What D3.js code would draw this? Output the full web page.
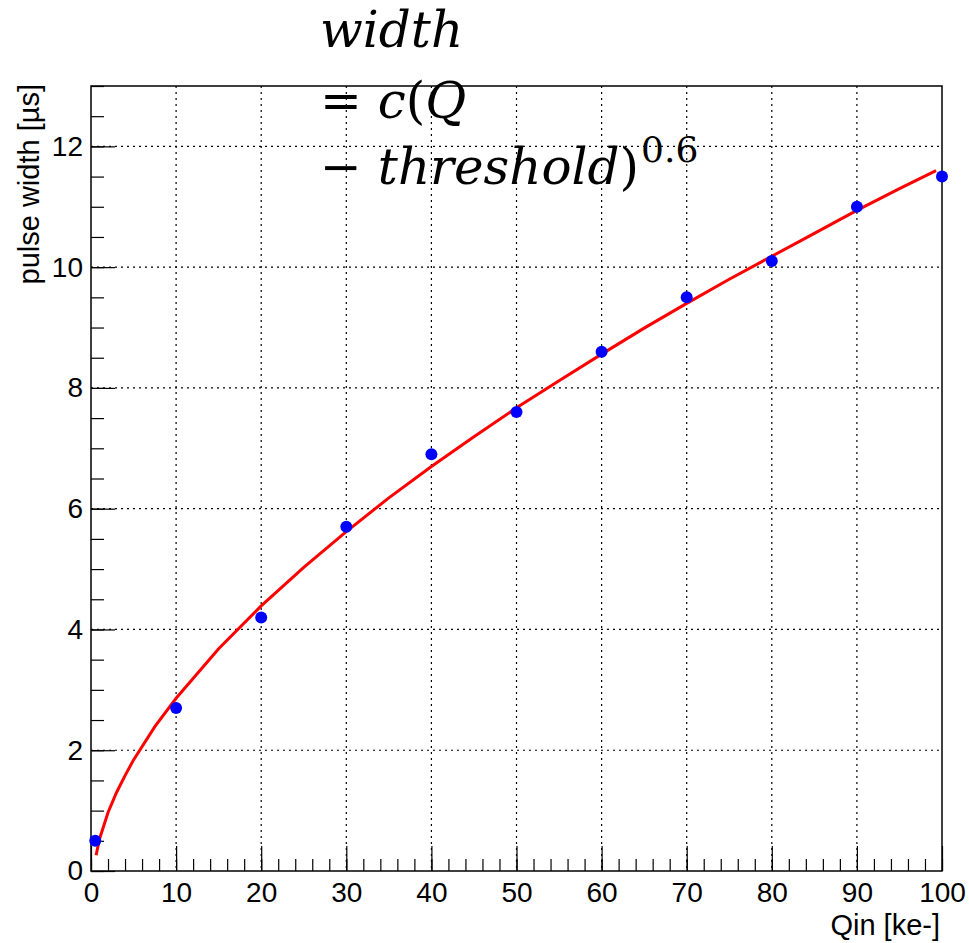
<!DOCTYPE html>
<html>
<head>
<meta charset="utf-8">
<script src="https://cdn.jsdelivr.net/npm/d3@7"></script>
<style>
  body { margin: 0; background: #fff; }
  .axis text { font-family: "Liberation Sans", Arial, sans-serif; font-size: 28px; fill: #000; }
  .axis line { stroke: #000; stroke-width: 1.2; }
  .grid line { stroke: #000; stroke-width: 1.2; stroke-dasharray: 2,4; }
</style>
</head>
<body>
<div id="chart"></div>
<script>
// measured points
var qin    = [0.5, 10, 20, 30, 40, 50, 60, 70, 80, 90, 100];
var pwidth = [0.5, 2.7, 4.2, 5.7, 6.9, 7.6, 8.6, 9.5, 10.1, 11.0, 11.5];

// fitted curve
var fitQ = [0.6, 1, 2, 3, 4, 5, 7.5, 10, 15, 20, 25, 30, 35, 40, 45, 50, 55, 60, 65, 70, 75, 80, 85, 90, 95, 99.3];
var fitW = [0.26, 0.53, 0.97, 1.30, 1.58, 1.84, 2.39, 2.86, 3.68, 4.39, 5.03, 5.62, 6.18, 6.70, 7.19, 7.67, 8.12, 8.56, 8.99, 9.40, 9.80, 10.18, 10.56, 10.94, 11.30, 11.60];

// tick labels
var xTicks = [0, 10, 20, 30, 40, 50, 60, 70, 80, 90, 100];
var yTicks = [0, 2, 4, 6, 8, 10, 12];

// set the dimensions and margins of the graph
var margin = {top: 86, right: 27, bottom: 72, left: 91},
    width = 969 - margin.left - margin.right,
    height = 943 - margin.top - margin.bottom;

var root = d3.select("#chart")
    .append("svg")
    .attr("width", 969)
    .attr("height", 943);

var svg = root.append("g")
    .attr("transform", "translate(" + margin.left + "," + margin.top + ")");

var x = d3.scaleLinear().domain([0, 100]).range([0, width]);
var y = d3.scaleLinear().domain([0, 13]).range([height, 0]);

// dotted grid at the major ticks
svg.append("g").attr("class", "grid")
    .selectAll("line.v")
    .data(xTicks.slice(1, -1))
    .enter().append("line")
    .attr("x1", function (d) { return x(d); })
    .attr("x2", function (d) { return x(d); })
    .attr("y1", 0).attr("y2", height);

svg.append("g").attr("class", "grid")
    .selectAll("line.h")
    .data(yTicks.slice(1))
    .enter().append("line")
    .attr("y1", function (d) { return y(d); })
    .attr("y2", function (d) { return y(d); })
    .attr("x1", 0).attr("x2", width);

// X axis: minor ticks, then major ticks with labels (ticks point inwards, ROOT style)
svg.append("g").attr("class", "axis")
    .attr("transform", "translate(0," + height + ")")
    .call(d3.axisBottom(x).tickValues(d3.range(0, 101, 2)).tickSize(-12).tickFormat(""))
    .call(function (g) { g.select(".domain").remove(); });

svg.append("g").attr("class", "axis")
    .attr("transform", "translate(0," + height + ")")
    .call(d3.axisBottom(x).tickValues(xTicks).tickSize(-25).tickPadding(11).tickFormat(d3.format("d")))
    .call(function (g) { g.select(".domain").remove(); });

// Y axis
svg.append("g").attr("class", "axis")
    .call(d3.axisLeft(y).tickValues(d3.range(0, 13.01, 0.5)).tickSize(-13).tickFormat(""))
    .call(function (g) { g.select(".domain").remove(); });

svg.append("g").attr("class", "axis")
    .call(d3.axisLeft(y).tickValues(yTicks).tickSize(-24).tickPadding(8).tickFormat(d3.format("d")))
    .call(function (g) { g.select(".domain").remove(); });

// frame
svg.append("rect")
    .attr("width", width).attr("height", height)
    .attr("fill", "none").attr("stroke", "#000").attr("stroke-width", 1.5);

// fit line
var line = d3.line()
    .x(function (d, i) { return x(fitQ[i]); })
    .y(function (d) { return y(d); });

svg.append("path")
    .datum(fitW)
    .attr("d", line)
    .attr("fill", "none")
    .attr("stroke", "#ff0000")
    .attr("stroke-width", 3);

// data points
svg.append("g")
    .selectAll("circle")
    .data(pwidth)
    .enter().append("circle")
    .attr("cx", function (d, i) { return x(qin[i]); })
    .attr("cy", function (d) { return y(d); })
    .attr("r", 6)
    .style("fill", "#0000ff");

// axis titles
root.append("text")
    .attr("x", 940).attr("y", 935)
    .attr("text-anchor", "end")
    .style("font-family", "Liberation Sans, Arial, sans-serif")
    .style("font-size", "29px")
    .text("Qin [ke-]");

root.append("text")
    .attr("transform", "translate(39,84) rotate(-90)")
    .attr("text-anchor", "end")
    .style("font-family", "Liberation Sans, Arial, sans-serif")
    .style("font-size", "29px")
    .text("pulse width [µs]");

// formula pasted on top of the plot
var f = root.append("g")
    .style("font-family", "DejaVu Serif, serif")
    .style("font-size", "50px")
    .style("fill", "#000");

f.append("text").attr("x", 320).attr("y", 47)
    .style("font-style", "italic").text("width");

var l2 = f.append("text").attr("x", 320).attr("y", 118);
l2.append("tspan").text("= ");
l2.append("tspan").style("font-style", "italic").text("c");
l2.append("tspan").text("(");
l2.append("tspan").style("font-style", "italic").text("Q");

var l3 = f.append("text").attr("x", 320).attr("y", 184);
l3.append("tspan").text("− ");
l3.append("tspan").style("font-style", "italic").text("threshold");
l3.append("tspan").text(")");
l3.append("tspan").attr("dy", -22).attr("dx", 2).style("font-size", "36px").text("0.6");
</script>
</body>
</html>
